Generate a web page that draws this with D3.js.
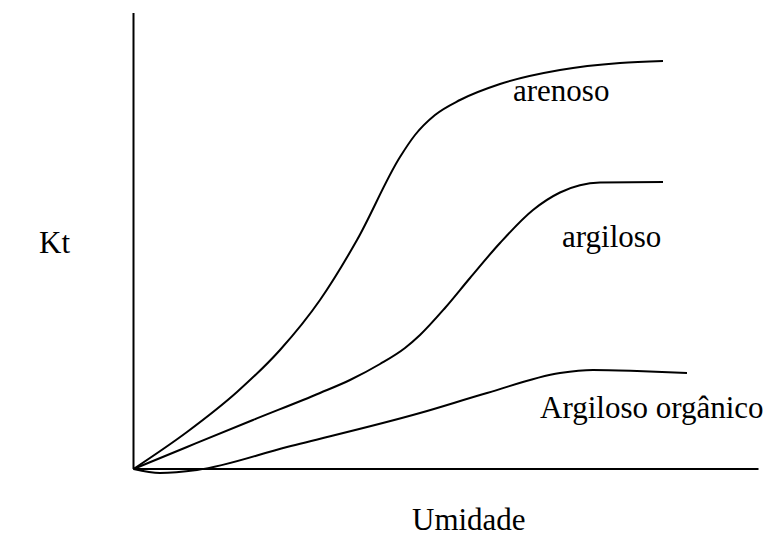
<!DOCTYPE html>
<html><head><meta charset="utf-8">
<script src="https://cdn.jsdelivr.net/npm/d3@7"></script>
<style>
html,body{margin:0;padding:0;background:#fff;}
svg text{font-family:'Liberation Serif','Times New Roman',Times,serif;font-size:31px;fill:#000;}
</style>
</head><body>
<svg id="c" width="772" height="536"></svg>
<script>
const seriesNames = ["arenoso", "argiloso", "Argiloso orgânico"];
const arenosoX = [0, 53.5, 103.5, 146.5, 186.5, 223.5, 266.5, 281.5, 301.5, 326.5, 366.5, 426.5, 486.5, 529.5];
const arenosoY = [0, 37, 77, 119, 169, 229, 312, 334, 354, 369, 385, 399, 406, 408];
const argilosoX = [0, 53.5, 119.5, 186.5, 216.5, 246.5, 271.5, 286.5, 311.5, 336.5, 366.5, 399.5, 426.5, 466.5, 529.5];
const argilosoY = [0, 22, 49, 76, 89, 105, 121, 134, 161, 191, 226, 259, 276.5, 286.5, 287];
const organicoX = [0, 26.5, 63.5, 153.5, 286.5, 353.5, 426.5, 459.5, 503.5, 553.5];
const organicoY = [0, -4, -1, 22, 56, 76, 96, 99, 98, 96];
const xLabel = "Umidade";
const yLabel = "Kt";

const svg = d3.select("#c");
const x = d3.scaleLinear().domain([0, 625]).range([133.5, 758.5]);
const y = d3.scaleLinear().domain([0, 456]).range([469, 13]);

// axes
svg.append("line").attr("x1", x(0)).attr("x2", x(0)).attr("y1", y(0)).attr("y2", y(456))
  .attr("stroke", "#000").attr("stroke-width", 2);
svg.append("line").attr("x1", x(0)).attr("x2", x(625)).attr("y1", y(0)).attr("y2", y(0))
  .attr("stroke", "#000").attr("stroke-width", 2);

const line = d3.line().x(d => x(d[0])).y(d => y(d[1])).curve(d3.curveMonotoneX);
const series = [
  d3.zip(arenosoX, arenosoY),
  d3.zip(argilosoX, argilosoY),
  d3.zip(organicoX, organicoY)
];
svg.selectAll("path.s").data(series).enter().append("path")
  .attr("class", "s").attr("d", line)
  .attr("fill", "none").attr("stroke", "#000").attr("stroke-width", 2);

const labelPos = [[513, 101], [562, 247], [540, 418]];
svg.selectAll("text.lab").data(seriesNames).enter().append("text")
  .attr("class", "lab")
  .attr("x", (d, i) => labelPos[i][0]).attr("y", (d, i) => labelPos[i][1])
  .text(d => d);

svg.append("text").attr("x", 39).attr("y", 253).text(yLabel);
svg.append("text").attr("x", 412).attr("y", 530).text(xLabel);
</script>
</body></html>
